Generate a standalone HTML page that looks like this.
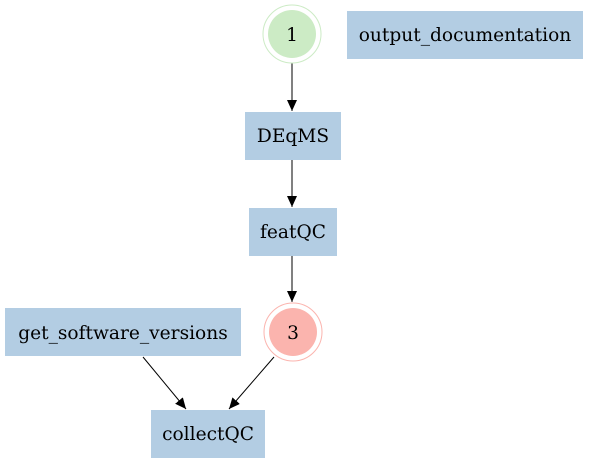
<!DOCTYPE html>
<html><head><style>body{margin:0;background:#fff}svg{display:block}text{font-family:"DejaVu Serif",serif;font-size:18.6px;text-anchor:middle}</style></head>
<body>
<svg width="589" height="464" viewBox="0 0 589 464" xmlns="http://www.w3.org/2000/svg">
<defs><marker id="a" markerWidth="11" markerHeight="10" refX="11" refY="5" orient="auto" markerUnits="userSpaceOnUse"><path d="M0,0L11,5L0,10z" fill="#000"/></marker></defs>
<g stroke="#000" stroke-width="1" fill="none">
<line x1="292" y1="63" x2="292" y2="111" marker-end="url(#a)"/>
<line x1="292" y1="160" x2="292" y2="207" marker-end="url(#a)"/>
<line x1="292" y1="256" x2="292" y2="302" marker-end="url(#a)"/>
<line x1="143" y1="357" x2="186" y2="409" marker-end="url(#a)"/>
<line x1="274" y1="357" x2="229" y2="409" marker-end="url(#a)"/>
</g>
<circle cx="292" cy="34" r="29" fill="none" stroke="#ccebc5"/>
<circle cx="292" cy="34" r="24" fill="#ccebc5"/>
<text x="292" y="41">1</text>
<rect x="347" y="11" width="236" height="48" fill="#b3cde3"/>
<text x="465" y="41">output_documentation</text>
<rect x="245" y="112" width="96" height="48" fill="#b3cde3"/>
<text x="293" y="142">DEqMS</text>
<rect x="249" y="208" width="88" height="48" fill="#b3cde3"/>
<text x="293" y="238">featQC</text>
<circle cx="293" cy="332" r="29" fill="none" stroke="#fbb4ae"/>
<circle cx="293" cy="332" r="24" fill="#fbb4ae"/>
<text x="293" y="339">3</text>
<rect x="5" y="308" width="236" height="48" fill="#b3cde3"/>
<text x="123" y="339">get_software_versions</text>
<rect x="151" y="410" width="114" height="48" fill="#b3cde3"/>
<text x="208" y="440">collectQC</text>
</svg>
</body></html>
